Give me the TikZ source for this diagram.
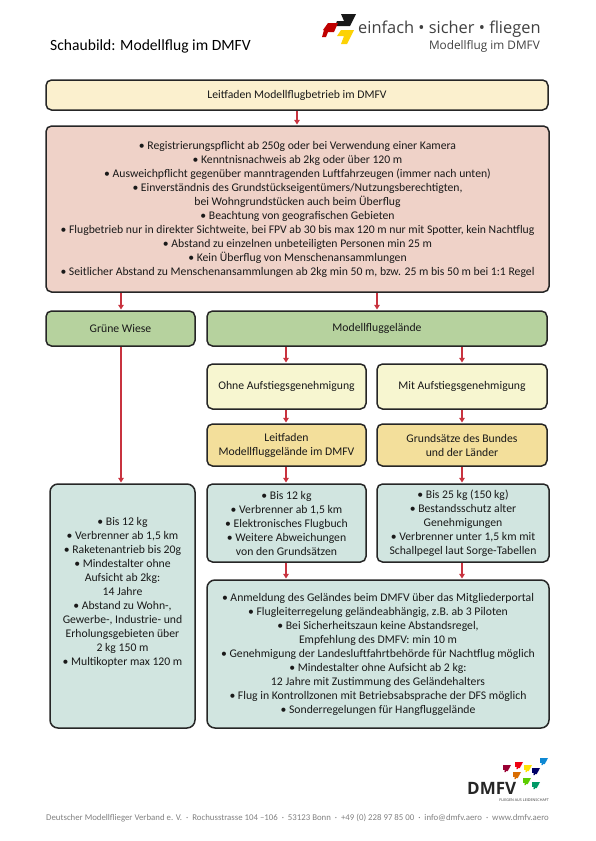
\documentclass[tikz,border=0pt]{standalone}
\usepackage{fontspec}
\setmainfont{Carlito}
\newfontfamily\logofont{Open Sans}
\usetikzlibrary{arrows.meta,calc}
\definecolor{cYel}{HTML}{FBF0CE}
\definecolor{cRed}{HTML}{EFD2C8}
\definecolor{cGrn}{HTML}{B6D29E}
\definecolor{cLY}{HTML}{F7F6D0}
\definecolor{cOr}{HTML}{F3DF9B}
\definecolor{cTeal}{HTML}{D1E5E0}
\definecolor{cArr}{HTML}{C8333F}
\definecolor{cLine}{HTML}{262626}
\tikzset{
  bx/.style={draw=cLine,line width=1.5pt,rounded corners=5.5pt,align=center,inner sep=0pt,text=black!90,font=\fontsize{11.7}{14}\selectfont},
  rnd/.style={rounded corners=8pt},
  conn/.style={draw=cArr,line width=1.3pt,-{Triangle[length=4.5pt,width=5.5pt]},shorten >=0.8pt},
  foot/.style={text=black!50,font=\fontsize{8.8}{10}\selectfont,inner sep=0pt},
}
\newcommand{\bxn}[8][]{%
  \node[bx,#1,fill=#7,minimum width={(#5-#3)*1pt},minimum height={(#6-#4)*1pt}] (#2) at ({(#3+#5)/2},{-(#4+#6)/2}) {#8};}
\begin{document}
\begin{tikzpicture}[x=1pt,y=1pt]
\useasboundingbox (0,0) rectangle (595,-841);
\node[anchor=west,inner sep=0pt,font=\fontsize{15.6}{18}\selectfont] (title) at (50,-46) {Schaubild: Modellflug im DMFV};
% top logo
\fill[black!90] (341,-14) -- (356,-14) -- (350,-26) -- (335,-26) -- (337,-21) -- (344,-21) -- cycle;
\fill[red!75!black] (328,-23) -- (338,-23) -- (334,-32) -- (328,-32) -- (326,-37) -- (322,-37) -- (324,-30) -- (323,-30) -- cycle;
\fill[yellow!70!orange] (341,-30) -- (354,-30) -- (347,-44) -- (341,-44) -- (344,-36) -- (337,-36) -- cycle;
\node[anchor=west,inner sep=0pt,text=black!75,font=\logofont\fontsize{16.4}{18}\selectfont] (lg1) at (358,-29) {einfach • sicher • fliegen};
\node[anchor=east,inner sep=0pt,text=black!75,font=\logofont\fontsize{11.8}{13}\selectfont] (lg2) at (540,-46) {Modellflug im DMFV};
% boxes
\bxn{lead}{46}{80}{548}{110}{cYel}{Leitfaden Modellflugbetrieb im DMFV}
\bxn{reg}{46}{126}{549}{292}{cRed}{• Registrierungspflicht ab 250g oder bei Verwendung einer Kamera\\
• Kenntnisnachweis ab 2kg oder über 120 m\\
• Ausweichpflicht gegenüber manntragenden Luftfahrzeugen (immer nach unten)\\
• Einverständnis des Grundstückseigentümers/Nutzungsberechtigten,\\
bei Wohngrundstücken auch beim Überflug\\
• Beachtung von geografischen Gebieten\\
• Flugbetrieb nur in direkter Sichtweite, bei FPV ab 30 bis max 120 m nur mit Spotter, kein Nachtflug\\
• Abstand zu einzelnen unbeteiligten Personen min 25 m\\
• Kein Überflug von Menschenansammlungen\\
• Seitlicher Abstand zu Menschenansammlungen ab 2kg min 50 m, bzw. 25 m bis 50 m bei 1:1 Regel}
\bxn{wiese}{46}{311}{195}{346}{cGrn}{Grüne Wiese}
\bxn{mfg}{207}{311}{547}{346}{cGrn}{Modellfluggelände}
\bxn{ohne}{207}{364}{366}{409}{cLY}{Ohne Aufstiegsgenehmigung}
\bxn{mit}{377}{364}{547}{409}{cLY}{Mit Aufstiegsgenehmigung}
\bxn{lmg}{207}{424}{366}{466}{cOr}{Leitfaden\\Modellfluggelände im DMFV}
\bxn{gsb}{377}{424}{547}{466}{cOr}{Grundsätze des Bundes\\und der Länder}
\bxn[rnd]{left}{50}{484}{195}{728}{cTeal}{• Bis 12 kg\\• Verbrenner ab 1,5 km\\• Raketenantrieb bis 20g\\• Mindestalter ohne\\Aufsicht ab 2kg:\\14 Jahre\\• Abstand zu Wohn-,\\Gewerbe-, Industrie- und\\Erholungsgebieten über\\2 kg 150 m\\• Multikopter max 120 m\\[11pt]\strut}
\bxn{mid}{207}{484}{366}{562}{cTeal}{• Bis 12 kg\\• Verbrenner ab 1,5 km\\• Elektronisches Flugbuch\\• Weitere Abweichungen\\von den Grundsätzen}
\bxn{rgt}{377}{484}{549}{562}{cTeal}{• Bis 25 kg (150 kg)\\• Bestandsschutz alter\\Genehmigungen\\• Verbrenner unter 1,5 km mit\\Schallpegel laut Sorge-Tabellen}
\bxn[rnd]{big}{207}{580}{549}{728}{cTeal}{• Anmeldung des Geländes beim DMFV über das Mitgliederportal\\
• Flugleiterregelung geländeabhängig, z.B. ab 3 Piloten\\
• Bei Sicherheitszaun keine Abstandsregel,\\
Empfehlung des DMFV: min 10 m\\
• Genehmigung der Landesluftfahrtbehörde für Nachtflug möglich\\
• Mindestalter ohne Aufsicht ab 2 kg:\\
12 Jahre mit Zustimmung des Geländehalters\\
• Flug in Kontrollzonen mit Betriebsabsprache der DFS möglich\\
• Sonderregelungen für Hangfluggelände}
% connector columns
\coordinate (cA) at (121,0);
\coordinate (cB) at (286,0);
\coordinate (cC) at (462,0);
\coordinate (cD) at (377,0);
\coordinate (cE) at (297,0);
\draw[conn] (lead.south -| cE) -- (reg.north -| cE);
\draw[conn] (reg.south -| cA) -- (wiese.north -| cA);
\draw[conn] (reg.south -| cD) -- (mfg.north -| cD);
\draw[conn] (wiese.south -| cA) -- (left.north -| cA);
\draw[conn] (mfg.south -| cB) -- (ohne.north -| cB);
\draw[conn] (mfg.south -| cC) -- (mit.north -| cC);
\draw[conn] (ohne.south -| cB) -- (lmg.north -| cB);
\draw[conn] (mit.south -| cC) -- (gsb.north -| cC);
\draw[conn] (lmg.south -| cB) -- (mid.north -| cB);
\draw[conn] (gsb.south -| cC) -- (rgt.north -| cC);
\draw[conn] (mid.south -| cB) -- (big.north -| cB);
\draw[conn] (rgt.south -| cC) -- (big.north -| cC);
% DMFV logo
\def\mk#1#2#3{\fill[#3] (#1,-#2) -- ++(8,0) -- ++(-3.2,-6) -- ++(-1.8,0) -- ++(-0.4,-1.2) -- ++(-1.2,0) -- ++(0.4,2.4) -- ++(-1.8,0) -- cycle;}
\mk{503}{765}{purple!80!black}
\mk{515}{762}{red!75!purple}
\mk{524}{765}{yellow!85!orange}
\mk{532}{768}{blue!40!black}
\mk{540}{758}{cyan!70!blue}
\mk{513}{772}{orange!85!black}
\mk{523}{778}{green!55!yellow!80!black}
\mk{532}{782}{teal!80!green}
\node[anchor=west,inner sep=0pt,text=black!85,font=\logofont\bfseries\fontsize{17}{18}\selectfont] (dmfv) at (467,-788.5) {DMFV};
\node[anchor=east,inner sep=0pt,text=black!80,font=\logofont\fontsize{3.7}{4}\selectfont] (slog) at (549,-800) {FLIEGEN AUS LEIDENSCHAFT};
\node[foot,anchor=west] (f) at (46,-818) {Deutscher Modellflieger Verband e. V.\ \ ·\ \ Rochusstrasse 104 –106\ \ ·\ \ 53123 Bonn\ \ ·\ \ +49 (0) 228 97 85 00\ \ ·\ \ info@dmfv.aero\ \ ·\ \ www.dmfv.aero};
\end{tikzpicture}
\end{document}
